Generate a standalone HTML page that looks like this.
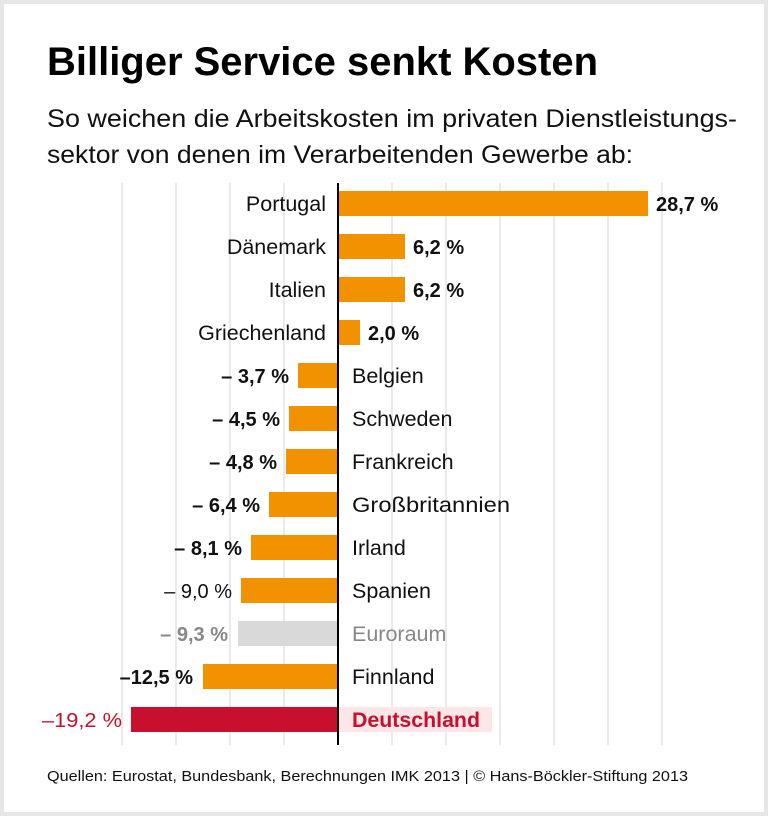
<!DOCTYPE html>
<html><head><meta charset="utf-8"><style>
html,body{margin:0;padding:0;background:#fff}
svg{display:block}
text{font-family:"Liberation Sans Narrow","Liberation Sans",sans-serif}
</style></head><body>
<svg width="768" height="816" viewBox="0 0 768 816" xmlns="http://www.w3.org/2000/svg">
<rect x="0" y="0" width="768" height="816" fill="#e6e6e6"/>
<rect x="4" y="4" width="760" height="808" fill="#fff"/>
<text x="47" y="75" font-size="40" font-weight="bold" textLength="551" lengthAdjust="spacingAndGlyphs">Billiger Service senkt Kosten</text>
<text x="47" y="127" font-size="25" fill="#111" textLength="690" lengthAdjust="spacingAndGlyphs">So weichen die Arbeitskosten im privaten Dienstleistungs-</text>
<text x="47" y="163" font-size="25" fill="#111" textLength="586" lengthAdjust="spacingAndGlyphs">sektor von denen im Verarbeitenden Gewerbe ab:</text>
<g stroke="#e3e3e3" stroke-width="1.5">
<line x1="122" y1="183" x2="122" y2="745"/><line x1="176" y1="183" x2="176" y2="745"/>
<line x1="230" y1="183" x2="230" y2="745"/><line x1="284" y1="183" x2="284" y2="745"/>
<line x1="392" y1="183" x2="392" y2="745"/><line x1="446" y1="183" x2="446" y2="745"/>
<line x1="500" y1="183" x2="500" y2="745"/><line x1="554" y1="183" x2="554" y2="745"/>
<line x1="608" y1="183" x2="608" y2="745"/><line x1="662" y1="183" x2="662" y2="745"/>
</g>
<rect x="338" y="707" width="154" height="25" fill="#fbe6e8"/>
<g fill="#f39200">
<rect x="338" y="191" width="310" height="25"/>
<rect x="338" y="234" width="67" height="25"/>
<rect x="338" y="277" width="67" height="25"/>
<rect x="338" y="320" width="22" height="25"/>
<rect x="298" y="363" width="40" height="25"/>
<rect x="289" y="406" width="49" height="25"/>
<rect x="286" y="449" width="52" height="25"/>
<rect x="269" y="492" width="69" height="25"/>
<rect x="251" y="535" width="87" height="25"/>
<rect x="241" y="578" width="97" height="25"/>
<rect x="203" y="664" width="135" height="25"/>
</g>
<rect x="238" y="621" width="100" height="25" fill="#d9d9d9"/>
<rect x="131" y="707" width="207" height="25" fill="#c8102e"/>
<line x1="338" y1="183" x2="338" y2="745" stroke="#000" stroke-width="2"/>
<g font-size="21.5" fill="#111">
<text x="326" y="211" text-anchor="end">Portugal</text>
<text x="326" y="254" text-anchor="end">Dänemark</text>
<text x="326" y="297" text-anchor="end">Italien</text>
<text x="326" y="340" text-anchor="end">Griechenland</text>
<text x="352" y="383">Belgien</text>
<text x="352" y="426">Schweden</text>
<text x="352" y="469">Frankreich</text>
<text x="352" y="512" textLength="158" lengthAdjust="spacingAndGlyphs">Großbritannien</text>
<text x="352" y="555">Irland</text>
<text x="352" y="598">Spanien</text>
<text x="352" y="641" fill="#888">Euroraum</text>
<text x="352" y="684">Finnland</text>
<text x="352" y="727" fill="#c8102e" font-weight="bold" textLength="128" lengthAdjust="spacingAndGlyphs">Deutschland</text>
</g>
<g font-size="20" font-weight="bold" fill="#111">
<text x="656" y="211">28,7 %</text>
<text x="413" y="254">6,2 %</text>
<text x="413" y="297">6,2 %</text>
<text x="368" y="340">2,0 %</text>
<text x="289" y="383" text-anchor="end">– 3,7 %</text>
<text x="280" y="426" text-anchor="end">– 4,5 %</text>
<text x="277" y="469" text-anchor="end">– 4,8 %</text>
<text x="260" y="512" text-anchor="end">– 6,4 %</text>
<text x="242" y="555" text-anchor="end">– 8,1 %</text>
<text x="232" y="598" text-anchor="end" font-weight="normal">– 9,0 %</text>
<text x="228" y="641" text-anchor="end" fill="#888">– 9,3 %</text>
<text x="193" y="684" text-anchor="end">–12,5 %</text>
<text x="122" y="727" text-anchor="end" fill="#c8102e" font-weight="normal" textLength="80" lengthAdjust="spacingAndGlyphs">–19,2 %</text>
</g>
<text x="47" y="781" font-size="15" fill="#111" textLength="641" lengthAdjust="spacingAndGlyphs">Quellen: Eurostat, Bundesbank, Berechnungen IMK 2013 | © Hans-Böckler-Stiftung 2013</text>
</svg>
</body></html>
